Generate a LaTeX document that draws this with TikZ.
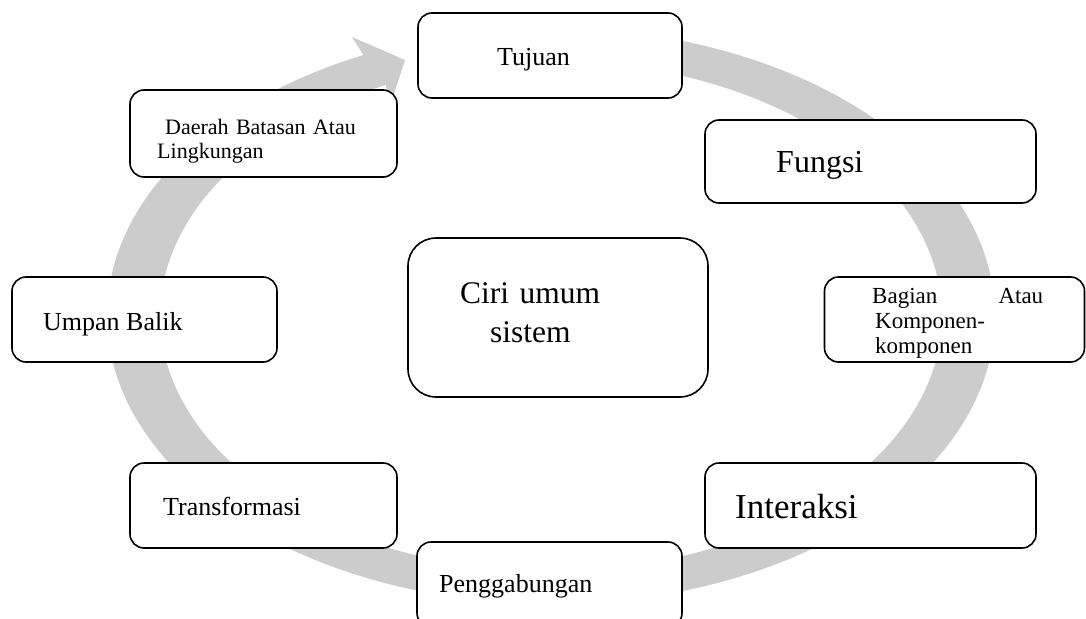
\documentclass[tikz,border=0pt]{standalone}
\usepackage{fontspec}
\setmainfont{Liberation Serif}
\definecolor{ringgray}{RGB}{204,204,204}

\begin{document}
\begin{tikzpicture}[x=1pt,y=-1pt]
\tikzset{box/.style={draw, fill=white, line width=1.6pt, rounded corners=14pt, inner sep=0pt}}
\tikzset{lbl/.style={anchor=base west, inner sep=0pt, align=left}}

\useasboundingbox (0,0) rectangle (1086,618);
\clip (0,0) rectangle (1086,618);

% grey ring with its head at the top left
\fill[ringgray] plot[domain=275:605,samples=150,variable=\t] ({551+444*cos(\t)},{316+288*sin(\t)})
  -- (352,37) -- (405,60) -- (390,106)
  -- plot[domain=605:275,samples=150,variable=\t] ({551+391*cos(\t)},{316+255*sin(\t)}) -- cycle;

\begin{scope}[every node/.style={box}]
\node[minimum width=264pt, minimum height=85pt] (tuj) at (550,55.5) {};
\node[minimum width=331pt, minimum height=83pt] (fun) at (870.5,161.5) {};
\node[minimum width=267pt, minimum height=87pt] (dae) at (263.5,133.5) {};
\node[minimum width=300pt, minimum height=159pt, rounded corners=28pt] (cir) at (558,317.5) {};
\node[minimum width=265pt, minimum height=85pt] (ump) at (144.5,319.5) {};
\node[minimum width=260pt, minimum height=85pt] (bag) at (954.5,319.5) {};
\node[minimum width=267pt, minimum height=85pt] (tra) at (263.5,505.5) {};
\node[minimum width=331pt, minimum height=85pt] (int) at (870.5,505.5) {};
\node[minimum width=265pt, minimum height=85pt] (pen) at (549.5,584.5) {};
\end{scope}

\node[lbl, font=\fontsize{26}{30}\selectfont] (ttuj) at (497,66) {Tujuan};
\node[lbl, font=\fontsize{32}{36}\selectfont] (tfun) at (776,172) {Fungsi};
\node[lbl, font=\fontsize{22}{20}\selectfont, text width=240pt] (tdae) at (157,134) {\hspace*{8pt}Daerah Batasan Atau\\[4pt]Lingkungan};
\node[lbl, font=\fontsize{31.5}{39}\selectfont, text width=240pt] (tcir) at (460,303) {Ciri umum\\\hspace*{30pt}sistem};
\node[lbl, font=\fontsize{26}{30}\selectfont] (tump) at (43,330) {Umpan Balik};
\node[lbl, font=\fontsize{23}{25}\selectfont, text width=171pt] (tbag) at (872,303) {Bagian\hfill Atau\\\hspace*{3pt}Komponen-\\\hspace*{3pt}komponen};
\node[lbl, font=\fontsize{26}{30}\selectfont] (ttra) at (163,515) {Transformasi};
\node[lbl, font=\fontsize{35}{39}\selectfont] (tint) at (735,518) {Interaksi};
\node[lbl, font=\fontsize{26}{30}\selectfont] (tpen) at (439,592) {Penggabungan};

\end{tikzpicture}
\end{document}
